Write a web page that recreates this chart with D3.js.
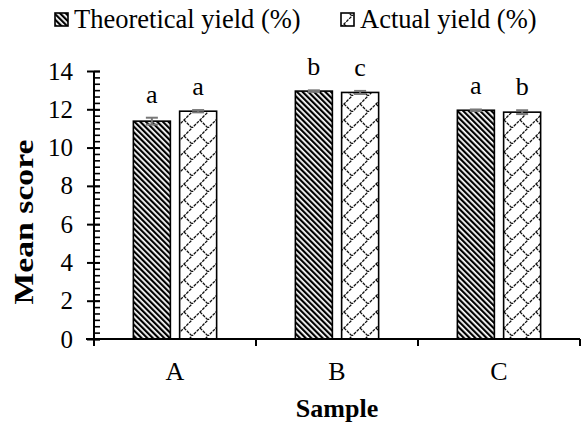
<!DOCTYPE html>
<html><head><meta charset="utf-8">
<script src="https://cdn.jsdelivr.net/npm/d3@7"></script>
<style>body{margin:0;background:#fff}svg{display:block}text{font-family:"Liberation Serif","Times New Roman",serif;fill:#000}</style>
</head><body>
<svg id="c" width="587" height="427"></svg>
<script>
const categories = ["A","B","C"];
const seriesNames = ["Theoretical yield (%)","Actual yield (%)"];
const theoretical = [11.38, 12.95, 11.95];
const actual = [11.9, 12.88, 11.85];
const theoreticalErr = [0.18, 0.04, 0.04];
const actualErr = [0.06, 0.08, 0.1];
const theoreticalLetters = ["a","b","a"];
const actualLetters = ["a","c","b"];
const yTicks = [0,2,4,6,8,10,12,14];

const svg = d3.select("#c");
const m = {l:94, r:580, t:71, b:339};
const defs = svg.append("defs");
// diagonal stripes pattern
const p1 = defs.append("pattern").attr("id","diag").attr("patternUnits","userSpaceOnUse")
  .attr("width",4).attr("height",4).attr("patternTransform","rotate(-45)");
p1.append("rect").attr("width",4).attr("height",4).attr("fill","#fff");
p1.append("rect").attr("width",2.2).attr("height",4).attr("fill","#000");
// diagonal brick pattern
const p2 = defs.append("pattern").attr("id","brick").attr("patternUnits","userSpaceOnUse")
  .attr("width",16).attr("height",16);
p2.append("rect").attr("width",16).attr("height",16).attr("fill","#fff");
p2.append("path").attr("d","M-1,17 L17,-1 M8,8 L16,16")
  .attr("stroke","#111").attr("stroke-width",1.3).attr("stroke-dasharray","3,1").attr("fill","none");
const fills = ["url(#diag)","url(#brick)"];

const x0 = d3.scaleBand().domain(categories).range([m.l, m.r]).padding(0);
const x1 = d3.scaleBand().domain(seriesNames).range([x0.bandwidth()*0.243, x0.bandwidth()*0.757]).paddingInner(0.2).paddingOuter(0);
const y = d3.scaleLinear().domain([0,14]).range([m.b, m.t]);

const data = categories.map((c,i)=>[
  {c, s:seriesNames[0], v:theoretical[i], e:theoreticalErr[i], l:theoreticalLetters[i]},
  {c, s:seriesNames[1], v:actual[i], e:actualErr[i], l:actualLetters[i]}
]).flat();

// bars
svg.append("g").selectAll("rect").data(data).join("rect")
  .attr("x", d=>x0(d.c)+x1(d.s))
  .attr("y", d=>y(d.v))
  .attr("width", x1.bandwidth())
  .attr("height", d=>y(0)-y(d.v))
  .attr("fill", (d)=>fills[seriesNames.indexOf(d.s)])
  .attr("stroke","#000").attr("stroke-width",1.6);

// error bars
const eg = svg.append("g").attr("stroke","#777").attr("stroke-width",2);
data.forEach(d=>{
  const cx = x0(d.c)+x1(d.s)+x1.bandwidth()/2;
  eg.append("line").attr("x1",cx).attr("x2",cx).attr("y1",y(d.v-d.e)).attr("y2",y(d.v+d.e));
  eg.append("line").attr("x1",cx-6).attr("x2",cx+6).attr("y1",y(d.v+d.e)).attr("y2",y(d.v+d.e));
  eg.append("line").attr("x1",cx-6).attr("x2",cx+6).attr("y1",y(d.v-d.e)).attr("y2",y(d.v-d.e));
});

// letters
svg.append("g").selectAll("text").data(data).join("text")
  .attr("x", d=>x0(d.c)+x1(d.s)+x1.bandwidth()/2)
  .attr("y", d=>y(d.v+d.e)-15)
  .attr("text-anchor","middle").attr("font-size",26)
  .text(d=>d.l);

// y axis
const minor = d3.range(0, 42+1).map(i=>i/3);
svg.append("g").attr("transform",`translate(${m.l},0)`)
  .call(d3.axisRight(y).tickValues(minor).tickSize(6).tickFormat(""))
  .call(g=>g.select(".domain").remove())
  .selectAll("line").attr("stroke","#000").attr("stroke-width",1.6);
const ya = svg.append("g").attr("transform",`translate(${m.l},0)`)
  .call(d3.axisLeft(y).tickValues(yTicks).tickSize(7).tickPadding(14).tickFormat(d3.format("d")));
ya.select(".domain").attr("stroke","#000").attr("stroke-width",2).attr("d",`M0,${m.t}V${m.b}`);
ya.selectAll(".tick line").attr("stroke","#000").attr("stroke-width",2).attr("x1",6);
ya.selectAll(".tick text").attr("font-size",25).attr("fill","#000");

// x axis
const xa = svg.append("g").attr("transform",`translate(0,${m.b})`)
  .call(d3.axisBottom(x0).tickSize(0).tickPadding(22.5));
xa.select(".domain").attr("stroke","#000").attr("stroke-width",2).attr("d",`M${m.l-8},0H${m.r}`);
xa.selectAll(".tick text").attr("font-size",26).attr("fill","#000");
const bounds = categories.map(c=>x0(c)).concat([m.r]);
svg.append("g").selectAll("line").data(bounds).join("line")
  .attr("x1",d=>d).attr("x2",d=>d).attr("y1",m.b).attr("y2",m.b+7)
  .attr("stroke","#000").attr("stroke-width",2);

// axis titles
svg.append("text").attr("x",(m.l+m.r)/2).attr("y",417).attr("text-anchor","middle")
  .attr("font-size",26).attr("font-weight","bold").text("Sample");
svg.append("text").attr("transform",`translate(33,222) rotate(-90)`)
  .attr("text-anchor","middle").attr("font-size",27).attr("font-weight","bold")
  .attr("textLength",165).attr("lengthAdjust","spacingAndGlyphs").text("Mean score");

// legend
const legX = [55, 341];
seriesNames.forEach((s,i)=>{
  svg.append("rect").attr("x",legX[i]).attr("y",13).attr("width",13).attr("height",13)
    .attr("fill",fills[i]).attr("stroke","#000").attr("stroke-width",1.6);
  svg.append("text").attr("x",legX[i]+19).attr("y",28).attr("font-size",26.5).text(s);
});
</script>
</body></html>
